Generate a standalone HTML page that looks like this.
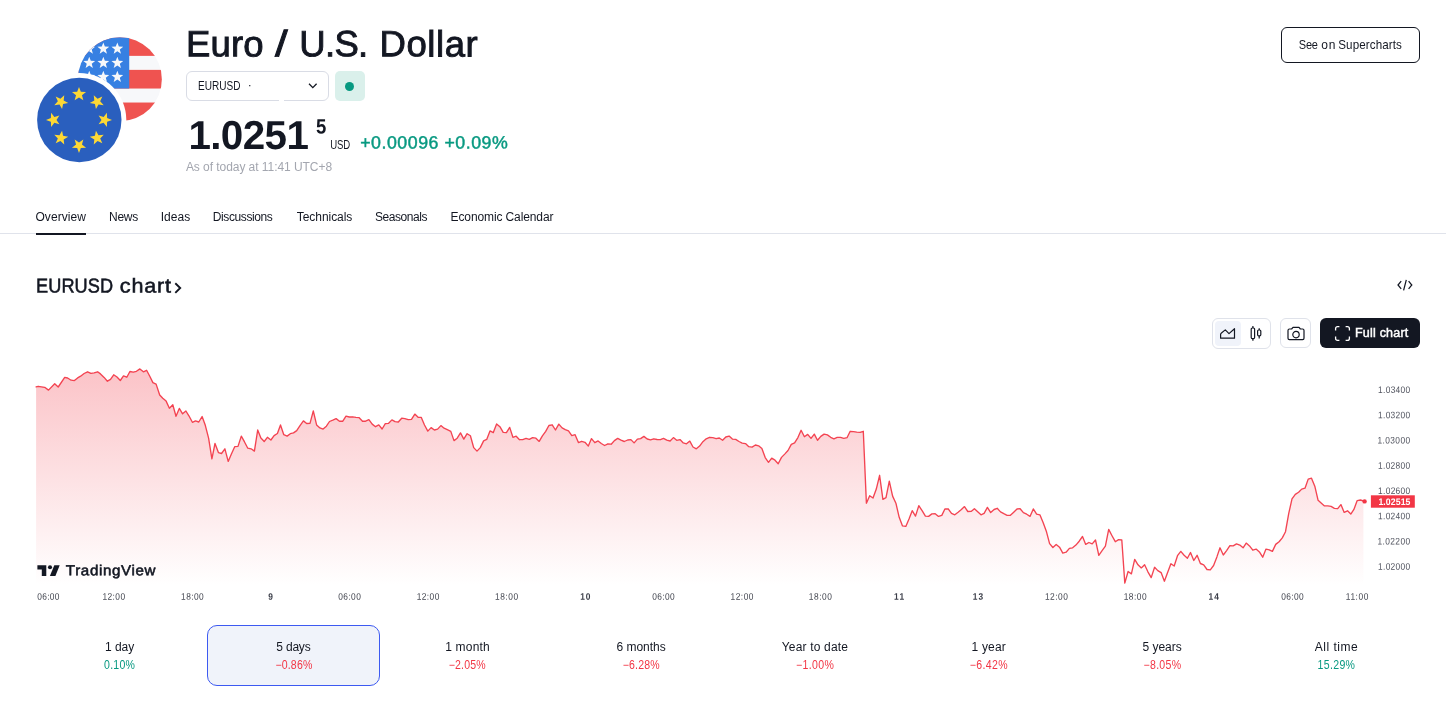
<!DOCTYPE html>
<html lang="en"><head><meta charset="utf-8"><title>EURUSD Chart — Euro / U.S. Dollar</title>
<style>
*{box-sizing:border-box;margin:0;padding:0}
html,body{width:1446px;height:701px;overflow:hidden;background:#fff}
body{position:relative;font-family:"Liberation Sans",sans-serif;color:#131722;-webkit-font-smoothing:antialiased}
.abs,.t,.tm,.pr,.rg,svg{position:absolute}
.t{white-space:nowrap;line-height:1}
#sel{left:186px;top:71px;width:143px;height:30px;border:1px solid #d9dce5;border-radius:6px}
#seldot{left:247.8px;top:79.4px;font-size:12px}
#badge{left:335px;top:71px;width:30px;height:30px;border-radius:5px;background:#daf0eb}
#badge i{position:absolute;left:10px;top:10.6px;width:9px;height:9px;border-radius:50%;background:#089981}
#tabline{left:0;top:233px;width:1446px;height:1px;background:#e0e3eb}
#tabul{left:36px;top:233px;width:50px;height:2px;background:#131722}
#btn1{left:1281px;top:27px;width:139px;height:36px;border:1px solid #131722;border-radius:6px}
#grp{left:1212px;top:318px;width:59px;height:31px;border:1px solid #dfe2ea;border-radius:6px}
#grpsel{left:1215px;top:321px;width:26px;height:25px;border-radius:4px;background:#f0f3fa}
#cam{left:1280px;top:318px;width:31px;height:30px;border:1px solid #dfe2ea;border-radius:6px}
#full{left:1320px;top:318px;width:100px;height:30px;border-radius:6px;background:#131722}
#rsel{left:207px;top:625px;width:173px;height:61px;border:1px solid #3d5af1;border-radius:10px;background:#f0f3fa}
</style></head><body>

<svg width="1446" height="701" viewBox="0 0 1446 701" style="left:0;top:0">
<defs>
<clipPath id="cus"><circle cx="119.9" cy="79.2" r="42"/></clipPath>
<mask id="mus"><rect x="0" y="0" width="300" height="300" fill="#fff"/><circle cx="79.3" cy="120.0" r="47" fill="#000"/></mask>
<linearGradient id="ag" x1="0" y1="368" x2="0" y2="585" gradientUnits="userSpaceOnUse">
<stop offset="0" stop-color="#f23645" stop-opacity="0.30"/><stop offset="1" stop-color="#f23645" stop-opacity="0"/></linearGradient>
</defs>
<g mask="url(#mus)"><g clip-path="url(#cus)">
<rect x="77.9" y="37.2" width="84" height="84" fill="#f7f8fa"/>
<rect x="77.9" y="37.2" width="84" height="18.67" fill="#ef5350"/>
<rect x="77.9" y="69.87" width="84" height="18.67" fill="#ef5350"/>
<rect x="77.9" y="102.53" width="84" height="18.67" fill="#ef5350"/>
<rect x="77.9" y="37.2" width="51.33" height="51.33" fill="#3780e2"/>
<g fill="#f7f8fa"><polygon points="89.24,42.43 90.77,46.53 95.14,46.72 91.72,49.44 92.88,53.65 89.24,51.24 85.60,53.65 86.76,49.44 83.34,46.72 87.71,46.53"/><polygon points="89.24,56.67 90.77,60.76 95.14,60.95 91.72,63.67 92.88,67.88 89.24,65.47 85.60,67.88 86.76,63.67 83.34,60.95 87.71,60.76"/><polygon points="89.24,70.67 90.77,74.76 95.14,74.95 91.72,77.67 92.88,81.88 89.24,79.47 85.60,81.88 86.76,77.67 83.34,74.95 87.71,74.76"/><polygon points="103.33,42.43 104.86,46.53 109.23,46.72 105.81,49.44 106.98,53.65 103.33,51.24 99.69,53.65 100.86,49.44 97.44,46.72 101.80,46.53"/><polygon points="103.33,56.67 104.86,60.76 109.23,60.95 105.81,63.67 106.98,67.88 103.33,65.47 99.69,67.88 100.86,63.67 97.44,60.95 101.80,60.76"/><polygon points="103.33,70.67 104.86,74.76 109.23,74.95 105.81,77.67 106.98,81.88 103.33,79.47 99.69,81.88 100.86,77.67 97.44,74.95 101.80,74.76"/><polygon points="117.33,42.43 118.86,46.53 123.23,46.72 119.81,49.44 120.98,53.65 117.33,51.24 113.69,53.65 114.86,49.44 111.44,46.72 115.80,46.53"/><polygon points="117.33,56.67 118.86,60.76 123.23,60.95 119.81,63.67 120.98,67.88 117.33,65.47 113.69,67.88 114.86,63.67 111.44,60.95 115.80,60.76"/><polygon points="117.33,70.67 118.86,74.76 123.23,74.95 119.81,77.67 120.98,81.88 117.33,79.47 113.69,81.88 114.86,77.67 111.44,74.95 115.80,74.76"/></g>
</g></g>
<circle cx="79.3" cy="120.0" r="42.2" fill="#2a5fbe"/>
<g fill="#fdd835"><polygon points="79.00,86.90 80.83,91.79 86.04,92.01 81.96,95.26 83.35,100.29 79.00,97.41 74.65,100.29 76.04,95.26 71.96,92.01 77.17,91.79"/><polygon points="102.33,96.57 100.17,101.31 103.70,105.16 98.51,104.57 95.94,109.11 94.90,104.00 89.79,102.96 94.33,100.39 93.74,95.20 97.59,98.73"/><polygon points="112.00,119.90 107.11,121.73 106.89,126.94 103.64,122.86 98.61,124.25 101.49,119.90 98.61,115.55 103.64,116.94 106.89,112.86 107.11,118.07"/><polygon points="102.33,143.23 97.59,141.07 93.74,144.60 94.33,139.41 89.79,136.84 94.90,135.80 95.94,130.69 98.51,135.23 103.70,134.64 100.17,138.49"/><polygon points="79.00,152.90 77.17,148.01 71.96,147.79 76.04,144.54 74.65,139.51 79.00,142.39 83.35,139.51 81.96,144.54 86.04,147.79 80.83,148.01"/><polygon points="55.67,143.23 57.83,138.49 54.30,134.64 59.49,135.23 62.06,130.69 63.10,135.80 68.21,136.84 63.67,139.41 64.26,144.60 60.41,141.07"/><polygon points="46.00,119.90 50.89,118.07 51.11,112.86 54.36,116.94 59.39,115.55 56.51,119.90 59.39,124.25 54.36,122.86 51.11,126.94 50.89,121.73"/><polygon points="55.67,96.57 60.41,98.73 64.26,95.20 63.67,100.39 68.21,102.96 63.10,104.00 62.06,109.11 59.49,104.57 54.30,105.16 57.83,101.31"/></g>

<clipPath id="ca"><rect x="36" y="360" width="1327.4" height="230"/></clipPath>
<path d="M36.1,386.8 L38.2,386.3 L44.7,387.3 L48.5,390.1 L54.7,383.7 L58.2,387.0 L64.7,377.4 L67.6,378.0 L71.1,380.2 L74.4,380.6 L77.6,377.9 L80.6,376.2 L84.1,373.5 L87.6,371.8 L90.9,373.3 L94.1,372.9 L97.6,371.8 L100.5,373.9 L104.1,377.4 L107.4,381.2 L110.5,379.4 L113.7,374.8 L117.0,377.0 L120.3,380.5 L123.5,375.9 L126.8,377.2 L129.9,371.5 L133.2,372.2 L136.4,371.3 L139.9,368.9 L143.4,371.8 L146.6,370.3 L149.9,376.5 L152.9,382.6 L156.1,384.1 L159.7,395.0 L162.8,398.2 L166.1,401.1 L169.4,408.2 L172.8,404.7 L176.0,416.2 L179.3,408.4 L182.6,413.8 L185.9,411.0 L188.9,415.8 L192.4,422.3 L195.5,420.9 L198.8,422.0 L202.1,416.5 L205.3,425.3 L208.6,438.2 L211.9,458.8 L215.0,443.5 L218.5,452.7 L221.5,453.5 L224.9,448.8 L228.2,461.4 L231.4,454.1 L234.7,446.7 L238.0,446.4 L241.3,436.1 L244.4,441.7 L247.8,448.2 L251.1,448.8 L254.4,451.1 L257.7,430.0 L260.9,438.0 L264.2,441.5 L267.4,437.3 L270.9,440.0 L274.1,435.6 L277.4,433.5 L280.5,425.0 L283.8,434.7 L287.1,436.1 L290.3,433.7 L293.5,432.9 L296.7,430.6 L300.0,425.6 L303.4,420.9 L306.7,423.5 L310.0,423.3 L313.3,410.9 L316.6,424.9 L319.9,427.9 L323.1,429.1 L326.4,426.2 L329.5,421.5 L332.8,420.1 L336.1,418.6 L339.5,421.2 L342.8,421.2 L346.0,416.1 L349.3,417.0 L352.6,416.8 L355.9,417.4 L359.2,417.7 L362.5,421.2 L365.6,421.2 L368.9,419.7 L372.2,424.1 L375.5,426.7 L378.8,424.9 L382.1,429.0 L385.3,423.7 L388.6,423.3 L391.9,419.9 L395.1,421.7 L398.3,422.0 L401.7,418.2 L404.9,418.6 L408.2,419.6 L411.5,419.4 L414.8,414.1 L418.1,417.3 L421.2,417.3 L424.5,425.0 L427.8,431.1 L431.1,427.6 L434.4,430.0 L437.6,429.1 L440.9,425.6 L444.1,428.2 L447.3,429.7 L450.8,431.4 L454.0,440.6 L457.2,438.2 L460.5,432.9 L463.8,439.1 L467.1,433.7 L470.4,435.8 L473.7,447.6 L477.0,451.1 L480.3,447.6 L483.6,440.9 L486.7,439.4 L490.0,430.9 L493.3,432.6 L496.6,423.9 L499.9,426.7 L503.2,432.3 L506.4,432.6 L509.7,427.4 L512.9,437.3 L516.2,436.2 L519.5,439.7 L522.7,439.6 L526.0,438.4 L529.3,439.4 L532.6,437.6 L535.9,438.2 L539.2,441.4 L542.4,435.8 L545.7,431.4 L548.9,425.5 L552.2,424.8 L555.5,430.0 L558.8,424.1 L562.1,427.9 L565.3,429.6 L568.5,430.9 L571.8,435.6 L575.1,434.7 L578.4,442.6 L581.7,441.3 L585.0,442.3 L588.3,446.1 L591.5,438.6 L594.8,442.7 L598.1,440.9 L601.3,443.5 L604.6,445.5 L607.9,443.8 L611.2,444.2 L614.4,440.6 L617.7,438.4 L621.0,440.2 L624.3,441.5 L627.6,440.0 L630.9,439.6 L634.1,442.9 L637.4,439.1 L640.6,438.6 L643.9,436.4 L647.2,439.0 L650.5,439.8 L653.8,438.8 L657.1,439.5 L660.4,439.7 L663.5,438.4 L666.8,440.2 L670.1,441.0 L673.4,437.6 L676.7,440.3 L680.0,439.6 L683.3,442.9 L686.5,443.8 L689.8,441.1 L693.0,447.0 L696.3,448.8 L699.6,446.1 L702.9,441.7 L706.2,438.8 L709.5,437.3 L712.8,437.7 L716.1,438.7 L719.3,438.0 L722.6,440.2 L725.8,437.0 L729.1,436.1 L732.4,439.1 L735.7,439.4 L739.0,441.5 L742.2,443.1 L745.5,443.6 L748.8,446.7 L752.1,447.1 L755.4,445.0 L758.6,445.8 L761.9,448.5 L765.2,457.6 L768.5,462.3 L771.7,458.2 L775.0,460.2 L778.2,463.7 L781.5,457.4 L784.7,454.1 L788.0,450.5 L791.3,444.4 L794.6,442.9 L797.9,437.6 L801.1,430.3 L804.4,436.7 L807.7,434.4 L811.0,438.4 L814.3,434.1 L817.5,440.3 L820.8,436.4 L824.1,434.1 L827.4,434.9 L830.7,437.3 L833.9,438.8 L837.2,437.4 L840.5,437.4 L843.8,438.4 L847.0,437.7 L850.2,431.3 L853.5,431.6 L856.8,432.1 L860.1,432.4 L863.3,431.3 L866.4,503.2 L869.7,495.7 L873.0,498.0 L876.3,489.1 L879.6,475.3 L882.9,499.3 L886.0,497.7 L889.3,481.2 L892.6,496.1 L895.9,503.2 L899.2,517.3 L902.5,525.9 L905.8,526.4 L909.0,518.9 L912.2,510.7 L915.5,516.1 L918.8,505.7 L922.1,510.7 L925.4,516.2 L928.6,516.4 L931.9,513.9 L935.2,513.7 L938.5,516.4 L941.8,515.4 L944.9,509.0 L948.2,508.8 L951.5,513.4 L954.8,514.8 L958.1,512.3 L961.4,509.5 L964.5,506.6 L967.8,511.5 L971.1,511.4 L974.4,508.7 L977.7,511.8 L981.0,514.8 L984.1,513.4 L987.4,507.4 L990.7,512.6 L994.1,509.5 L997.2,508.3 L1000.5,511.9 L1003.8,513.7 L1007.1,515.3 L1010.4,515.3 L1013.7,512.2 L1017.0,509.0 L1020.1,508.7 L1023.4,512.6 L1026.7,514.2 L1030.0,516.4 L1033.3,508.9 L1036.6,514.2 L1039.9,514.8 L1043.2,522.7 L1046.5,531.8 L1049.6,543.6 L1052.9,547.5 L1056.2,544.4 L1059.5,547.2 L1062.8,553.1 L1066.1,552.2 L1069.4,548.4 L1072.6,547.8 L1075.9,545.1 L1079.2,541.2 L1082.5,536.5 L1085.7,544.4 L1088.9,542.5 L1092.2,543.9 L1095.5,540.0 L1098.8,555.3 L1102.1,550.6 L1105.4,546.2 L1108.7,529.4 L1112.0,535.7 L1115.3,541.7 L1118.6,539.6 L1121.8,540.0 L1124.8,583.1 L1128.1,571.5 L1131.4,573.9 L1134.7,559.4 L1138.0,564.8 L1141.3,567.9 L1144.6,564.8 L1147.9,571.8 L1151.2,577.6 L1154.6,567.3 L1157.8,570.6 L1161.1,572.6 L1164.4,581.2 L1167.7,572.3 L1170.9,563.7 L1174.2,566.0 L1177.5,555.7 L1180.8,551.4 L1184.1,555.3 L1187.4,558.2 L1190.5,552.5 L1193.8,560.5 L1197.1,555.3 L1200.4,563.5 L1203.7,564.8 L1207.0,569.5 L1210.3,569.8 L1213.6,565.5 L1216.9,556.9 L1220.0,547.8 L1223.3,555.0 L1226.6,550.6 L1229.9,545.6 L1233.2,545.9 L1236.5,543.9 L1239.8,545.1 L1243.1,547.8 L1246.2,543.1 L1249.5,545.9 L1252.8,550.2 L1256.1,549.1 L1259.4,551.9 L1262.7,557.2 L1266.0,549.1 L1269.3,549.8 L1272.4,551.4 L1275.7,544.4 L1279.1,541.7 L1282.3,537.9 L1285.5,531.7 L1288.8,513.2 L1292.0,498.9 L1295.3,494.4 L1298.6,492.3 L1301.7,489.1 L1305.0,488.2 L1308.2,479.1 L1311.5,478.2 L1314.8,486.2 L1318.1,500.3 L1321.4,503.2 L1324.5,505.9 L1327.8,505.9 L1331.1,506.4 L1334.4,508.3 L1337.7,508.7 L1340.9,504.6 L1344.2,512.4 L1347.5,510.8 L1350.8,514.1 L1353.9,509.4 L1357.2,500.6 L1360.5,500.0 L1364.6,501.4 L1364.6,585 L36.1,585 Z" fill="url(#ag)" clip-path="url(#ca)"/>
<path d="M36.1,386.8 L38.2,386.3 L44.7,387.3 L48.5,390.1 L54.7,383.7 L58.2,387.0 L64.7,377.4 L67.6,378.0 L71.1,380.2 L74.4,380.6 L77.6,377.9 L80.6,376.2 L84.1,373.5 L87.6,371.8 L90.9,373.3 L94.1,372.9 L97.6,371.8 L100.5,373.9 L104.1,377.4 L107.4,381.2 L110.5,379.4 L113.7,374.8 L117.0,377.0 L120.3,380.5 L123.5,375.9 L126.8,377.2 L129.9,371.5 L133.2,372.2 L136.4,371.3 L139.9,368.9 L143.4,371.8 L146.6,370.3 L149.9,376.5 L152.9,382.6 L156.1,384.1 L159.7,395.0 L162.8,398.2 L166.1,401.1 L169.4,408.2 L172.8,404.7 L176.0,416.2 L179.3,408.4 L182.6,413.8 L185.9,411.0 L188.9,415.8 L192.4,422.3 L195.5,420.9 L198.8,422.0 L202.1,416.5 L205.3,425.3 L208.6,438.2 L211.9,458.8 L215.0,443.5 L218.5,452.7 L221.5,453.5 L224.9,448.8 L228.2,461.4 L231.4,454.1 L234.7,446.7 L238.0,446.4 L241.3,436.1 L244.4,441.7 L247.8,448.2 L251.1,448.8 L254.4,451.1 L257.7,430.0 L260.9,438.0 L264.2,441.5 L267.4,437.3 L270.9,440.0 L274.1,435.6 L277.4,433.5 L280.5,425.0 L283.8,434.7 L287.1,436.1 L290.3,433.7 L293.5,432.9 L296.7,430.6 L300.0,425.6 L303.4,420.9 L306.7,423.5 L310.0,423.3 L313.3,410.9 L316.6,424.9 L319.9,427.9 L323.1,429.1 L326.4,426.2 L329.5,421.5 L332.8,420.1 L336.1,418.6 L339.5,421.2 L342.8,421.2 L346.0,416.1 L349.3,417.0 L352.6,416.8 L355.9,417.4 L359.2,417.7 L362.5,421.2 L365.6,421.2 L368.9,419.7 L372.2,424.1 L375.5,426.7 L378.8,424.9 L382.1,429.0 L385.3,423.7 L388.6,423.3 L391.9,419.9 L395.1,421.7 L398.3,422.0 L401.7,418.2 L404.9,418.6 L408.2,419.6 L411.5,419.4 L414.8,414.1 L418.1,417.3 L421.2,417.3 L424.5,425.0 L427.8,431.1 L431.1,427.6 L434.4,430.0 L437.6,429.1 L440.9,425.6 L444.1,428.2 L447.3,429.7 L450.8,431.4 L454.0,440.6 L457.2,438.2 L460.5,432.9 L463.8,439.1 L467.1,433.7 L470.4,435.8 L473.7,447.6 L477.0,451.1 L480.3,447.6 L483.6,440.9 L486.7,439.4 L490.0,430.9 L493.3,432.6 L496.6,423.9 L499.9,426.7 L503.2,432.3 L506.4,432.6 L509.7,427.4 L512.9,437.3 L516.2,436.2 L519.5,439.7 L522.7,439.6 L526.0,438.4 L529.3,439.4 L532.6,437.6 L535.9,438.2 L539.2,441.4 L542.4,435.8 L545.7,431.4 L548.9,425.5 L552.2,424.8 L555.5,430.0 L558.8,424.1 L562.1,427.9 L565.3,429.6 L568.5,430.9 L571.8,435.6 L575.1,434.7 L578.4,442.6 L581.7,441.3 L585.0,442.3 L588.3,446.1 L591.5,438.6 L594.8,442.7 L598.1,440.9 L601.3,443.5 L604.6,445.5 L607.9,443.8 L611.2,444.2 L614.4,440.6 L617.7,438.4 L621.0,440.2 L624.3,441.5 L627.6,440.0 L630.9,439.6 L634.1,442.9 L637.4,439.1 L640.6,438.6 L643.9,436.4 L647.2,439.0 L650.5,439.8 L653.8,438.8 L657.1,439.5 L660.4,439.7 L663.5,438.4 L666.8,440.2 L670.1,441.0 L673.4,437.6 L676.7,440.3 L680.0,439.6 L683.3,442.9 L686.5,443.8 L689.8,441.1 L693.0,447.0 L696.3,448.8 L699.6,446.1 L702.9,441.7 L706.2,438.8 L709.5,437.3 L712.8,437.7 L716.1,438.7 L719.3,438.0 L722.6,440.2 L725.8,437.0 L729.1,436.1 L732.4,439.1 L735.7,439.4 L739.0,441.5 L742.2,443.1 L745.5,443.6 L748.8,446.7 L752.1,447.1 L755.4,445.0 L758.6,445.8 L761.9,448.5 L765.2,457.6 L768.5,462.3 L771.7,458.2 L775.0,460.2 L778.2,463.7 L781.5,457.4 L784.7,454.1 L788.0,450.5 L791.3,444.4 L794.6,442.9 L797.9,437.6 L801.1,430.3 L804.4,436.7 L807.7,434.4 L811.0,438.4 L814.3,434.1 L817.5,440.3 L820.8,436.4 L824.1,434.1 L827.4,434.9 L830.7,437.3 L833.9,438.8 L837.2,437.4 L840.5,437.4 L843.8,438.4 L847.0,437.7 L850.2,431.3 L853.5,431.6 L856.8,432.1 L860.1,432.4 L863.3,431.3 L866.4,503.2 L869.7,495.7 L873.0,498.0 L876.3,489.1 L879.6,475.3 L882.9,499.3 L886.0,497.7 L889.3,481.2 L892.6,496.1 L895.9,503.2 L899.2,517.3 L902.5,525.9 L905.8,526.4 L909.0,518.9 L912.2,510.7 L915.5,516.1 L918.8,505.7 L922.1,510.7 L925.4,516.2 L928.6,516.4 L931.9,513.9 L935.2,513.7 L938.5,516.4 L941.8,515.4 L944.9,509.0 L948.2,508.8 L951.5,513.4 L954.8,514.8 L958.1,512.3 L961.4,509.5 L964.5,506.6 L967.8,511.5 L971.1,511.4 L974.4,508.7 L977.7,511.8 L981.0,514.8 L984.1,513.4 L987.4,507.4 L990.7,512.6 L994.1,509.5 L997.2,508.3 L1000.5,511.9 L1003.8,513.7 L1007.1,515.3 L1010.4,515.3 L1013.7,512.2 L1017.0,509.0 L1020.1,508.7 L1023.4,512.6 L1026.7,514.2 L1030.0,516.4 L1033.3,508.9 L1036.6,514.2 L1039.9,514.8 L1043.2,522.7 L1046.5,531.8 L1049.6,543.6 L1052.9,547.5 L1056.2,544.4 L1059.5,547.2 L1062.8,553.1 L1066.1,552.2 L1069.4,548.4 L1072.6,547.8 L1075.9,545.1 L1079.2,541.2 L1082.5,536.5 L1085.7,544.4 L1088.9,542.5 L1092.2,543.9 L1095.5,540.0 L1098.8,555.3 L1102.1,550.6 L1105.4,546.2 L1108.7,529.4 L1112.0,535.7 L1115.3,541.7 L1118.6,539.6 L1121.8,540.0 L1124.8,583.1 L1128.1,571.5 L1131.4,573.9 L1134.7,559.4 L1138.0,564.8 L1141.3,567.9 L1144.6,564.8 L1147.9,571.8 L1151.2,577.6 L1154.6,567.3 L1157.8,570.6 L1161.1,572.6 L1164.4,581.2 L1167.7,572.3 L1170.9,563.7 L1174.2,566.0 L1177.5,555.7 L1180.8,551.4 L1184.1,555.3 L1187.4,558.2 L1190.5,552.5 L1193.8,560.5 L1197.1,555.3 L1200.4,563.5 L1203.7,564.8 L1207.0,569.5 L1210.3,569.8 L1213.6,565.5 L1216.9,556.9 L1220.0,547.8 L1223.3,555.0 L1226.6,550.6 L1229.9,545.6 L1233.2,545.9 L1236.5,543.9 L1239.8,545.1 L1243.1,547.8 L1246.2,543.1 L1249.5,545.9 L1252.8,550.2 L1256.1,549.1 L1259.4,551.9 L1262.7,557.2 L1266.0,549.1 L1269.3,549.8 L1272.4,551.4 L1275.7,544.4 L1279.1,541.7 L1282.3,537.9 L1285.5,531.7 L1288.8,513.2 L1292.0,498.9 L1295.3,494.4 L1298.6,492.3 L1301.7,489.1 L1305.0,488.2 L1308.2,479.1 L1311.5,478.2 L1314.8,486.2 L1318.1,500.3 L1321.4,503.2 L1324.5,505.9 L1327.8,505.9 L1331.1,506.4 L1334.4,508.3 L1337.7,508.7 L1340.9,504.6 L1344.2,512.4 L1347.5,510.8 L1350.8,514.1 L1353.9,509.4 L1357.2,500.6 L1360.5,500.0 L1364.6,501.4" fill="none" stroke="#f23a49" stroke-width="1.35" stroke-opacity="0.95" stroke-linejoin="round" stroke-linecap="round"/>
<circle cx="1364.6" cy="501.4" r="2.2" fill="#f23645"/>
</svg>

<div class="abs" id="sel"></div>
<svg width="10" height="6" viewBox="0 0 10 6" style="left:308px;top:83.4px"><path d="M1 0.8 L4.8 4.6 L8.6 0.8" fill="none" stroke="#131722" stroke-width="1.3"/></svg>
<div class="abs" id="badge"><i></i></div>
<div class="abs" style="left:279px;top:99.6px;width:5.4px;height:1.6px;background:#fff"></div>

<div class="abs" id="tabline"></div><div class="abs" id="tabul"></div>


<svg width="10" height="14" viewBox="0 0 10 14" style="left:173px;top:280.5px"><path d="M2.3 2.3 L7.2 6.95 L2.3 11.9" fill="none" stroke="#131722" stroke-width="1.9"/></svg>
<div class="abs" id="btn1"></div>

<svg width="18" height="14" viewBox="0 0 18 14" style="left:1395.5px;top:277.7px"><path d="M5.2 3.2 L2 7 L5.2 10.8 M12.6 3.2 L15.8 7 L12.6 10.8 M10.3 1.8 L7.6 12.4" fill="none" stroke="#131722" stroke-width="1.25"/></svg>

<div class="abs" id="grp"></div><div class="abs" id="grpsel"></div>
<svg width="20" height="16" viewBox="0 0 20 16" style="left:1218px;top:325px"><path d="M2.6 13.2 V9.6 Q2.6 8.6 3.4 8 L7.3 4.9 L11 8.6 L16.5 3.7 V13.2 Z" fill="none" stroke="#131722" stroke-width="1.2" stroke-linejoin="round"/></svg>
<svg width="16" height="20" viewBox="0 0 16 20" style="left:1248px;top:323px"><g fill="none" stroke="#131722" stroke-width="1.2"><rect x="3.2" y="5" width="3.4" height="10.6" rx="1.2"/><path d="M4.9 2.9 V5 M4.9 15.6 V17.8"/><rect x="9.6" y="7" width="3.2" height="5.8" rx="1.1"/><path d="M11.2 5.3 V7 M11.2 12.8 V15.6"/></g></svg>
<div class="abs" id="cam"></div>
<svg width="22" height="18" viewBox="0 0 22 18" style="left:1284.5px;top:324.5px"><g fill="none" stroke="#131722" stroke-width="1.2" stroke-linejoin="round"><path d="M3 5.4 Q3 4 4.4 4 H6.6 L8 2.4 H14 L15.4 4 H17.6 Q19 4 19 5.4 V13.3 Q19 14.7 17.6 14.7 H4.4 Q3 14.7 3 13.3 Z"/><circle cx="11" cy="9.6" r="3.2"/></g></svg>
<div class="abs" id="full"></div>
<svg width="17" height="17" viewBox="0 0 17 17" style="left:1334px;top:325px"><path d="M1.6 5.4 V3.6 Q1.6 1.6 3.6 1.6 H5.4 M11.6 1.6 H13.4 Q15.4 1.6 15.4 3.6 V5.4 M15.4 11.6 V13.4 Q15.4 15.4 13.4 15.4 H11.6 M5.4 15.4 H3.6 Q1.6 15.4 1.6 13.4 V11.6" fill="none" stroke="#fff" stroke-width="1.3"/></svg>

<svg width="24" height="12" viewBox="0 0 24 12" style="left:37px;top:564.5px"><g fill="#131722"><path d="M0.4 0.2 H9.3 V11 H4.8 V4.5 H0.4 Z"/><circle cx="13" cy="2.3" r="2.05"/><path d="M17.3 0.2 H22.7 L18.4 11 H12.9 Z"/></g></svg>
<svg width="60" height="20" viewBox="0 0 60 20" style="left:1360px;top:490px"><rect x="10.9" y="5.3" width="43.9" height="12.4" fill="#f23645"/></svg>

<div class="abs" id="rsel"></div>
<div class="t" id="seldot">·</div>
<svg width="1446" height="701" viewBox="0 0 1446 701" style="left:0;top:0;font-family:'Liberation Sans',sans-serif;fill:#131722">
<text id="title1" transform="translate(185.96,56.35) rotate(0.03)" font-size="36.5" letter-spacing="0.183" style="stroke:#131722;stroke-width:0.9px">Euro</text>
<text id="title2" transform="translate(275.06,56.35) rotate(0.03) scale(1.25,1)" font-size="36.5" letter-spacing="0.000" style="stroke:#131722;stroke-width:0.9px">/</text>
<text id="title3" transform="translate(299.33,56.35) rotate(0.03)" font-size="36.5" letter-spacing="-0.698" style="stroke:#131722;stroke-width:0.9px">U.S.</text>
<text id="title4" transform="translate(379.45,56.35) rotate(0.03)" font-size="36.5" letter-spacing="0.580" style="stroke:#131722;stroke-width:0.9px">Dollar</text>
<text id="seltxt" transform="translate(197.92,90) scale(0.84,1)" font-size="12.0" letter-spacing="0.039">EURUSD</text>
<text id="price" transform="translate(188.40,149.0) rotate(0.03)" font-size="40.4" letter-spacing="-0.606" style="font-weight:700">1.0251</text>
<text id="sup" transform="translate(315.89,133.45) rotate(0.03) scale(0.9,1)" font-size="20.6" letter-spacing="0.000" style="font-weight:700">5</text>
<text id="usd" transform="translate(330.20,149) scale(0.8,1)" font-size="12.0" letter-spacing="-0.121">USD</text>
<text id="chg" transform="translate(360.23,148.4) rotate(0.03)" font-size="17.75" letter-spacing="0.526" style="fill:#089981;stroke:#089981;stroke-width:0.45px">+0.00096 +0.09%</text>
<text id="asof" transform="translate(185.88,171)" font-size="12.0" letter-spacing="-0.054" style="fill:#a3a6af">As of today at 11:41 UTC+8</text>
<text id="tab1" transform="translate(35.47,221)" font-size="12.0" letter-spacing="0.063">Overview</text>
<text id="tab2" transform="translate(109.00,221)" font-size="12.0" letter-spacing="-0.273">News</text>
<text id="tab3" transform="translate(160.63,221)" font-size="12.0" letter-spacing="0.050">Ideas</text>
<text id="tab4" transform="translate(212.74,221)" font-size="12.0" letter-spacing="-0.392">Discussions</text>
<text id="tab5" transform="translate(296.75,221)" font-size="12.0" letter-spacing="-0.050">Technicals</text>
<text id="tab6" transform="translate(375.02,221)" font-size="12.0" letter-spacing="-0.456">Seasonals</text>
<text id="tab7" transform="translate(450.57,221)" font-size="12.0" letter-spacing="-0.115">Economic Calendar</text>
<text id="h2a" transform="translate(36.10,292.4) rotate(0.03) scale(0.9,1)" font-size="20.15" letter-spacing="0.085" style="stroke:#131722;stroke-width:0.55px">EURUSD</text>
<text id="h2b" transform="translate(119.81,292.4) rotate(0.03) scale(1.07,1)" font-size="20.15" letter-spacing="0.781" style="stroke:#131722;stroke-width:0.55px">chart</text>
<text id="btn1a" transform="translate(1298.77,49) scale(0.92,1)" font-size="12.0" letter-spacing="-0.233">See</text>
<text id="btn1b" transform="translate(1321.33,49)" font-size="12.0" letter-spacing="0.658">on</text>
<text id="btn1c" transform="translate(1338.24,49) scale(0.97,1)" font-size="12.0" letter-spacing="0.093">Supercharts</text>
<text id="fullt" transform="translate(1355.00,337)" font-size="12.5" letter-spacing="0.207" style="fill:#fff;stroke:#fff;stroke-width:0.45px">Full chart</text>
<text id="tv" transform="translate(65.85,575.2) rotate(0.03) scale(1.05,1)" font-size="14.4" letter-spacing="0.615" style="stroke:#131722;stroke-width:0.55px">TradingView</text>
<text id="r1a" transform="translate(105.00,651)" font-size="12.0" letter-spacing="-0.032">1 day</text>
<text id="r1b" transform="translate(104.10,669) scale(0.88,1)" font-size="12.0" letter-spacing="0.264" style="fill:#089981">0.10%</text>
<text id="r2a" transform="translate(276.26,651)" font-size="12.0" letter-spacing="-0.186">5 days</text>
<text id="r2b" transform="translate(275.45,669) scale(0.88,1)" font-size="12.0" letter-spacing="0.170" style="fill:#f23645">−0.86%</text>
<text id="r3a" transform="translate(445.15,651)" font-size="12.0" letter-spacing="0.213">1 month</text>
<text id="r3b" transform="translate(448.66,669) scale(0.88,1)" font-size="12.0" letter-spacing="0.218" style="fill:#f23645">−2.05%</text>
<text id="r4a" transform="translate(616.47,651)" font-size="12.0" letter-spacing="-0.028">6 months</text>
<text id="r4b" transform="translate(622.66,669) scale(0.88,1)" font-size="12.0" letter-spacing="0.218" style="fill:#f23645">−6.28%</text>
<text id="r5a" transform="translate(781.78,651)" font-size="12.0" letter-spacing="0.177">Year to date</text>
<text id="r5b" transform="translate(795.96,669) scale(0.88,1)" font-size="12.0" letter-spacing="0.391" style="fill:#f23645">−1.00%</text>
<text id="r6a" transform="translate(971.56,651)" font-size="12.0" letter-spacing="0.169">1 year</text>
<text id="r6b" transform="translate(969.72,669) scale(0.88,1)" font-size="12.0" letter-spacing="0.413" style="fill:#f23645">−6.42%</text>
<text id="r7a" transform="translate(1142.48,651)" font-size="12.0" letter-spacing="-0.010">5 years</text>
<text id="r7b" transform="translate(1143.56,669) scale(0.88,1)" font-size="12.0" letter-spacing="0.311" style="fill:#f23645">−8.05%</text>
<text id="r8a" transform="translate(1314.82,651)" font-size="12.0" letter-spacing="0.496">All time</text>
<text id="r8b" transform="translate(1317.58,669) scale(0.88,1)" font-size="12.0" letter-spacing="0.361" style="fill:#089981">15.29%</text>
<text id="plab" transform="translate(1378.43,505.05) rotate(0.03) scale(0.92,1)" font-size="9.5" letter-spacing="0.088" style="font-weight:700;fill:#fff">1.02515</text>
<text id="tm0" transform="translate(37.20,599.65) rotate(0.03) scale(0.88,1)" font-size="9.5" letter-spacing="0.390" style="fill:#42454f">06:00</text>
<text id="tm1" transform="translate(102.40,599.65) rotate(0.03) scale(0.88,1)" font-size="9.5" letter-spacing="0.516" style="fill:#42454f">12:00</text>
<text id="tm2" transform="translate(181.10,599.65) rotate(0.03) scale(0.88,1)" font-size="9.5" letter-spacing="0.476" style="fill:#42454f">18:00</text>
<text id="tm3" transform="translate(268.25,599.65) rotate(0.03) scale(0.88,1)" font-size="9.5" letter-spacing="0.000" style="fill:#3a3d48;font-weight:700">9</text>
<text id="tm4" transform="translate(338.25,599.65) rotate(0.03) scale(0.88,1)" font-size="9.5" letter-spacing="0.479" style="fill:#42454f">06:00</text>
<text id="tm5" transform="translate(416.69,599.65) rotate(0.03) scale(0.88,1)" font-size="9.5" letter-spacing="0.502" style="fill:#42454f">12:00</text>
<text id="tm6" transform="translate(495.03,599.65) rotate(0.03) scale(0.88,1)" font-size="9.5" letter-spacing="0.598" style="fill:#42454f">18:00</text>
<text id="tm7" transform="translate(580.18,599.65) rotate(0.03) scale(0.88,1)" font-size="9.5" letter-spacing="0.944" style="fill:#3a3d48;font-weight:700">10</text>
<text id="tm8" transform="translate(652.37,599.65) rotate(0.03) scale(0.88,1)" font-size="9.5" letter-spacing="0.390" style="fill:#42454f">06:00</text>
<text id="tm9" transform="translate(730.53,599.65) rotate(0.03) scale(0.88,1)" font-size="9.5" letter-spacing="0.579" style="fill:#42454f">12:00</text>
<text id="tm10" transform="translate(808.83,599.65) rotate(0.03) scale(0.88,1)" font-size="9.5" letter-spacing="0.597" style="fill:#42454f">18:00</text>
<text id="tm11" transform="translate(894.12,599.65) rotate(0.03) scale(0.88,1)" font-size="9.5" letter-spacing="1.354" style="fill:#3a3d48;font-weight:700">11</text>
<text id="tm12" transform="translate(972.82,599.65) rotate(0.03) scale(0.88,1)" font-size="9.5" letter-spacing="1.189" style="fill:#3a3d48;font-weight:700">13</text>
<text id="tm13" transform="translate(1044.90,599.65) rotate(0.03) scale(0.88,1)" font-size="9.5" letter-spacing="0.576" style="fill:#42454f">12:00</text>
<text id="tm14" transform="translate(1123.70,599.65) rotate(0.03) scale(0.88,1)" font-size="9.5" letter-spacing="0.555" style="fill:#42454f">18:00</text>
<text id="tm15" transform="translate(1208.56,599.65) rotate(0.03) scale(0.88,1)" font-size="9.5" letter-spacing="1.060" style="fill:#3a3d48;font-weight:700">14</text>
<text id="tm16" transform="translate(1281.37,599.65) rotate(0.03) scale(0.88,1)" font-size="9.5" letter-spacing="0.368" style="fill:#42454f">06:00</text>
<text id="tm17" transform="translate(1345.83,599.65) rotate(0.03) scale(0.88,1)" font-size="9.5" letter-spacing="0.639" style="fill:#42454f">11:00</text>
<text id="pr0" transform="translate(1378.10,393.05) rotate(0.03) scale(0.88,1)" font-size="9.5" letter-spacing="0.357" style="fill:#50535e">1.03400</text>
<text id="pr1" transform="translate(1378.10,418.28) rotate(0.03) scale(0.88,1)" font-size="9.5" letter-spacing="0.341" style="fill:#50535e">1.03200</text>
<text id="pr2" transform="translate(1377.51,443.51) rotate(0.03) scale(0.88,1)" font-size="9.5" letter-spacing="0.453" style="fill:#50535e">1.03000</text>
<text id="pr3" transform="translate(1378.10,468.74) rotate(0.03) scale(0.88,1)" font-size="9.5" letter-spacing="0.342" style="fill:#50535e">1.02800</text>
<text id="pr4" transform="translate(1378.10,493.97) rotate(0.03) scale(0.88,1)" font-size="9.5" letter-spacing="0.357" style="fill:#50535e">1.02600</text>
<text id="pr5" transform="translate(1378.10,519.2) rotate(0.03) scale(0.88,1)" font-size="9.5" letter-spacing="0.341" style="fill:#50535e">1.02400</text>
<text id="pr6" transform="translate(1377.51,544.43) rotate(0.03) scale(0.88,1)" font-size="9.5" letter-spacing="0.453" style="fill:#50535e">1.02200</text>
<text id="pr7" transform="translate(1378.10,569.66) rotate(0.03) scale(0.88,1)" font-size="9.5" letter-spacing="0.342" style="fill:#50535e">1.02000</text>
</svg>
</body></html>
